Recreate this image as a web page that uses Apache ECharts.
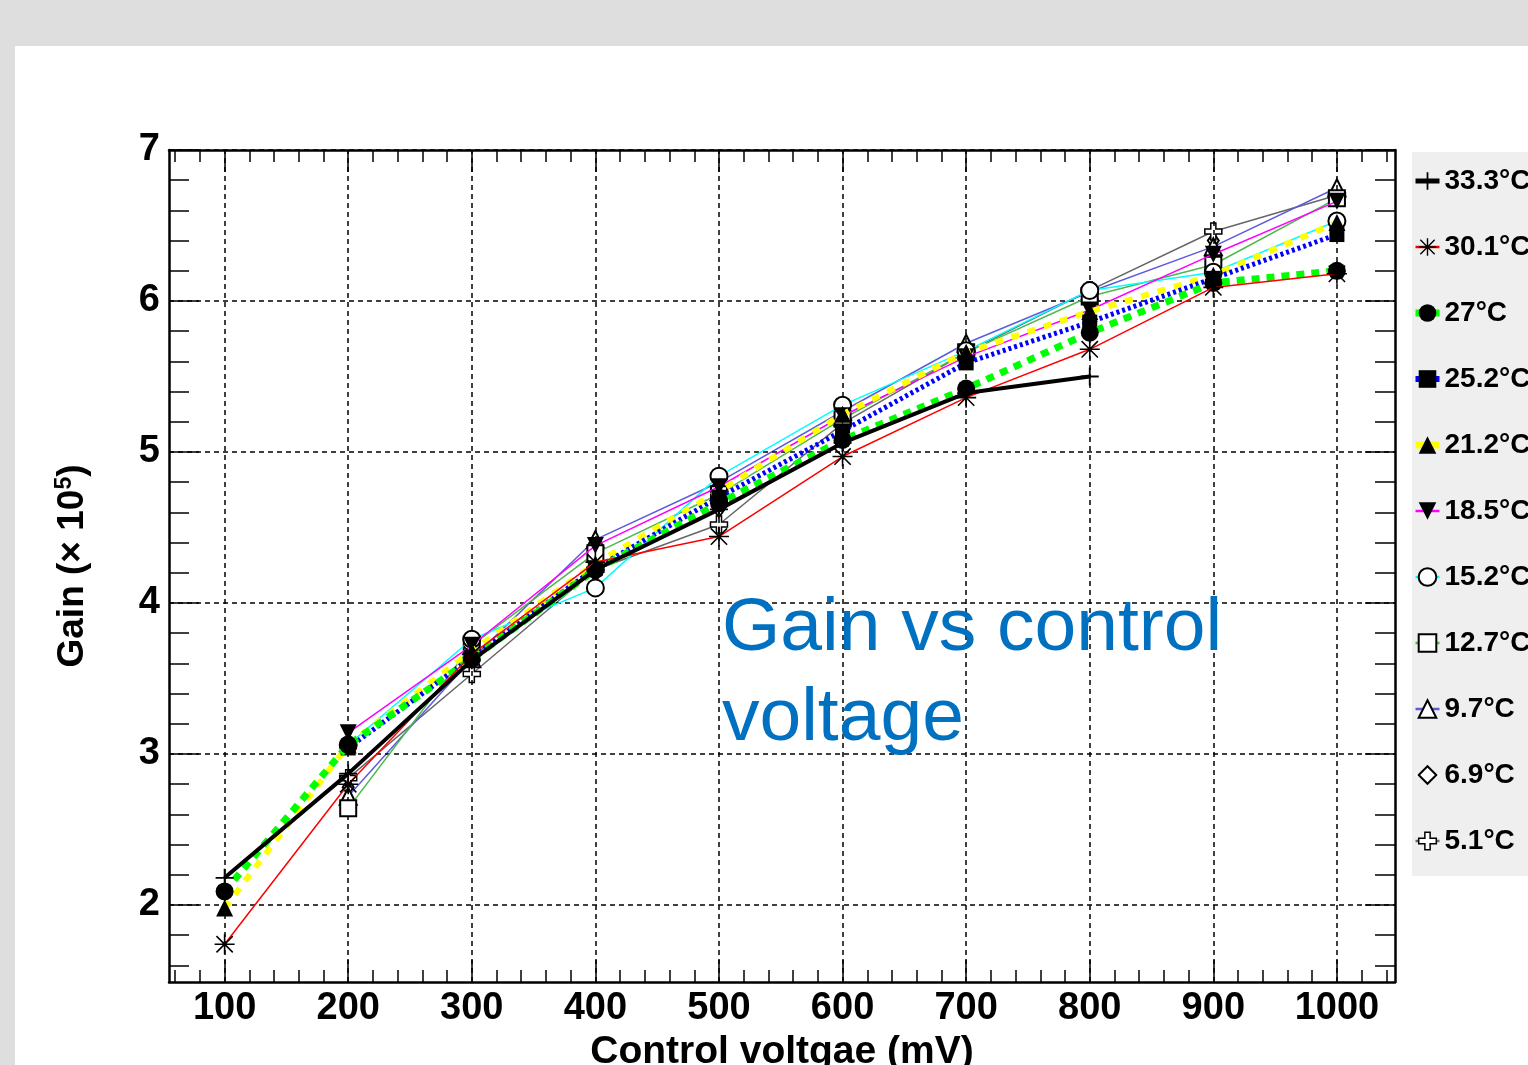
<!DOCTYPE html>
<html><head><meta charset="utf-8">
<script src="https://cdn.jsdelivr.net/npm/echarts@6/dist/echarts.min.js"></script>
<style>html,body{margin:0;padding:0;background:#ffffff;}#c{width:1528px;height:1065px;}</style>
</head><body><div id="c"></div>
<script>
// ---- data ----
const voltages = [100, 200, 300, 400, 500, 600, 700, 800, 900, 1000];
const xMajorTicks = [100, 200, 300, 400, 500, 600, 700, 800, 900, 1000];
const xMinorTicks = [60, 80, 120, 140, 160, 180, 220, 240, 260, 280, 320, 340, 360, 380, 420, 440, 460, 480,
  520, 540, 560, 580, 620, 640, 660, 680, 720, 740, 760, 780, 820, 840, 860, 880, 920, 940, 960, 980, 1020, 1040];
const yMajorTicks = [2, 3, 4, 5, 6, 7];
const yMinorTicks = [1.6, 1.8, 2.2, 2.4, 2.6, 2.8, 3.2, 3.4, 3.6, 3.8, 4.2, 4.4, 4.6, 4.8,
  5.2, 5.4, 5.6, 5.8, 6.2, 6.4, 6.6, 6.8];
const seriesNames = ['33.3°C', '30.1°C', '27°C', '25.2°C', '21.2°C', '18.5°C', '15.2°C', '12.7°C', '9.7°C', '6.9°C', '5.1°C'];
const g333 = [2.18, 2.87, 3.62, 4.22, 4.62, 5.06, 5.39, 5.50, null, null];
const g301 = [1.74, 2.80, 3.66, 4.27, 4.44, 4.97, 5.36, 5.68, 6.09, 6.18];
const g270 = [2.09, 3.06, 3.63, 4.22, 4.66, 5.08, 5.42, 5.79, 6.12, 6.20];
const g252 = [null, 3.04, 3.64, 4.23, 4.70, 5.14, 5.59, 5.86, 6.15, 6.44];
const g212 = [1.98, 3.06, 3.68, 4.26, 4.74, 5.25, 5.66, 5.93, 6.17, 6.52];
const g185 = [null, 3.14, 3.72, 4.38, 4.77, 5.24, 5.63, 5.94, 6.31, 6.66];
const g152 = [null, 3.06, 3.76, 4.10, 4.84, 5.31, 5.67, 6.07, 6.19, 6.53];
const g127 = [null, 2.64, 3.72, 4.33, 4.72, 5.22, 5.66, 6.03, 6.24, 6.68];
const g97  = [null, 2.72, 3.63, 4.42, 4.80, 5.27, 5.72, 6.06, 6.36, 6.75];
const g69  = [null, 2.78, 3.62, 4.35, 4.62, 5.22, 5.64, 6.05, 6.40, 6.68];
const g51  = [null, 2.84, 3.53, 4.22, 4.52, 5.19, 5.66, 6.07, 6.46, 6.70];
const seriesValues = [g333, g301, g270, g252, g212, g185, g152, g127, g97, g69, g51];

// ---- styles ----
const PLUS = 'path://M9,0H11V9H20V11H11V20H9V11H0V9H9Z';
const STAR = 'path://M9.2,0H10.8V20H9.2Z M0,9.2H20V10.8H0Z M2.4,1.3L18.7,17.6L17.6,18.7L1.3,2.4Z M17.6,1.3L18.7,2.4L2.4,18.7L1.3,17.6Z';
const TRI_DOWN = 'path://M0,0H20L10,17.3Z';
const OPEN_CROSS = 'path://M7,0H13V7H20V13H13V20H7V13H0V7H7Z';
const seriesStyle = [
  {line: '#000000', width: 4,   type: 'solid', symbol: PLUS, size: 18, z: 12},
  {line: '#ff0000', width: 1.5, type: 'solid', symbol: STAR, size: 20, z: 11},
  {line: '#00ff00', width: 7,   type: [8, 7], symbol: 'circle', size: 18, z: 10},
  {line: '#0000ff', width: 5,   type: [3, 3], symbol: 'rect', size: 15, z: 9},
  {line: '#ffff00', width: 6,   type: [8, 9], symbol: 'triangle', size: 17, z: 8},
  {line: '#ff00ff', width: 1.5, type: 'solid', symbol: TRI_DOWN, size: 17, z: 7},
  {line: '#00ffff', width: 1.5, type: 'solid', symbol: 'emptyCircle', size: 17, z: 6},
  {line: '#4db84d', width: 1.5, type: 'solid', symbol: 'emptyRect', size: 16, z: 5},
  {line: '#5c5cdc', width: 1.5, type: 'solid', symbol: 'emptyTriangle', size: 17, z: 4},
  {line: '#ffffff', width: 1.5, type: 'solid', symbol: 'emptyDiamond', size: [11, 16], z: 2},
  {line: '#666666', width: 1.5, type: 'solid', symbol: OPEN_CROSS, size: 17, z: 3, open: true}
];

const FONT = 'Liberation Sans, Arial, Helvetica, sans-serif';
const XMIN = 55, XMAX = 1047, YMIN = 1.49, YMAX = 7.0;
const plainNum = v => String(v);

function xAxisDef(pos, ticks, len, showLine, showLabel) {
  return {
    type: 'value', position: pos, min: XMIN, max: XMAX, gridIndex: 0,
    axisLine: {show: showLine, onZero: false, lineStyle: {color: '#000', width: 2.5}},
    axisTick: {show: true, inside: true, length: len, customValues: ticks, lineStyle: {color: '#000', width: 1.5}},
    axisLabel: showLabel ? {show: true, customValues: xMajorTicks, formatter: plainNum, margin: 8, color: '#000',
      fontSize: 38, fontWeight: 'bold', fontFamily: FONT} : {show: false},
    splitLine: {show: false}
  };
}
function yAxisDef(pos, ticks, len, showLine, showLabel) {
  return {
    type: 'value', position: pos, min: YMIN, max: YMAX, gridIndex: 0,
    axisLine: {show: showLine, onZero: false, lineStyle: {color: '#000', width: 2.5}},
    axisTick: {show: true, inside: true, length: len, customValues: ticks, lineStyle: {color: '#000', width: 1.5}},
    axisLabel: showLabel ? {show: true, customValues: yMajorTicks, formatter: plainNum, margin: 9, color: '#000',
      fontSize: 38, fontWeight: 'bold', fontFamily: FONT} : {show: false},
    splitLine: {show: false}
  };
}

const xAxes = [
  Object.assign(xAxisDef('bottom', xMajorTicks, 22, true, true), {
    name: 'Control voltgae (mV)', nameLocation: 'middle', nameGap: 45,
    nameTextStyle: {fontSize: 39, fontWeight: 'bold', color: '#000', fontFamily: FONT}
  }),
  xAxisDef('bottom', xMinorTicks, 12, false, false),
  xAxisDef('top', xMajorTicks, 22, true, false),
  xAxisDef('top', xMinorTicks, 12, false, false)
];
const yAxes = [
  Object.assign(yAxisDef('left', yMajorTicks, 30, true, true), {
    name: '{a|Gain (× 10}{s|5}{a|)}', nameLocation: 'middle', nameGap: 76,
    nameTextStyle: {rich: {
      a: {fontSize: 37, fontWeight: 'bold', color: '#000', fontFamily: FONT, lineHeight: 40},
      s: {fontSize: 23, fontWeight: 'bold', color: '#000', fontFamily: FONT, lineHeight: 22, verticalAlign: 'top'}
    }}
  }),
  yAxisDef('left', yMinorTicks, 20, false, false),
  yAxisDef('right', yMajorTicks, 30, true, false),
  yAxisDef('right', yMinorTicks, 20, false, false)
];

const series = [{
  type: 'line', data: [], silent: true, z: 1, xAxisIndex: 0, yAxisIndex: 0,
  markLine: {
    silent: true, symbol: ['none', 'none'], label: {show: false}, animation: false,
    lineStyle: {color: '#000', type: [5, 4], width: 1.5},
    emphasis: {disabled: true},
    data: xMajorTicks.map(v => ({xAxis: v})).concat(yMajorTicks.map(v => ({yAxis: v})))
  }
}];
const legendData = [];
seriesNames.forEach((name, i) => {
  const s = seriesStyle[i];
  const itemStyle = s.open
    ? {color: '#ffffff', borderColor: '#000000', borderWidth: 1.5}
    : {color: '#000000', borderWidth: 1.5};
  series.push({
    name: name, type: 'line', xAxisIndex: 0, yAxisIndex: 0, z: s.z,
    data: voltages.map((v, k) => [v, seriesValues[i][k]]).filter(p => p[1] !== null),
    symbol: s.symbol, symbolSize: s.size, showSymbol: true,
    lineStyle: {color: s.line, width: s.width, type: s.type},
    itemStyle: itemStyle,
    emphasis: {disabled: true},
    animation: false
  });
  legendData.push({name: name, lineStyle: {color: s.line, width: Math.min(s.width + 1, 7), type: 'solid'},
    itemStyle: itemStyle});
});

const chart = echarts.init(document.getElementById('c'), null, {renderer: 'canvas'});
chart.setOption({
  backgroundColor: '#ffffff',
  animation: false,
  textStyle: {fontFamily: FONT},
  graphic: [
    {type: 'rect', shape: {x: 0, y: 0, width: 1528, height: 46}, style: {fill: '#dedede'}, silent: true},
    {type: 'rect', shape: {x: 0, y: 0, width: 15, height: 1065}, style: {fill: '#dedede'}, silent: true}
  ],
  title: {
    text: 'Gain vs control\nvoltage', left: 722, top: 584, padding: 0,
    textStyle: {fontSize: 75, fontWeight: 'normal', color: '#0070c0', fontFamily: FONT, lineHeight: 90}
  },
  legend: {
    orient: 'vertical', left: 1412, top: 152, padding: [14, 40, 20, 0],
    itemGap: 36, itemWidth: 24, itemHeight: 22, selectedMode: false,
    backgroundColor: '#efefef',
    textStyle: {fontSize: 28, fontWeight: 'bold', color: '#000', fontFamily: FONT, lineHeight: 30},
    data: legendData
  },
  grid: {left: 169, top: 150, right: 133, bottom: 83, containLabel: false, outerBoundsMode: 'none'},
  xAxis: xAxes,
  yAxis: yAxes,
  series: series
});
</script>
</body></html>
